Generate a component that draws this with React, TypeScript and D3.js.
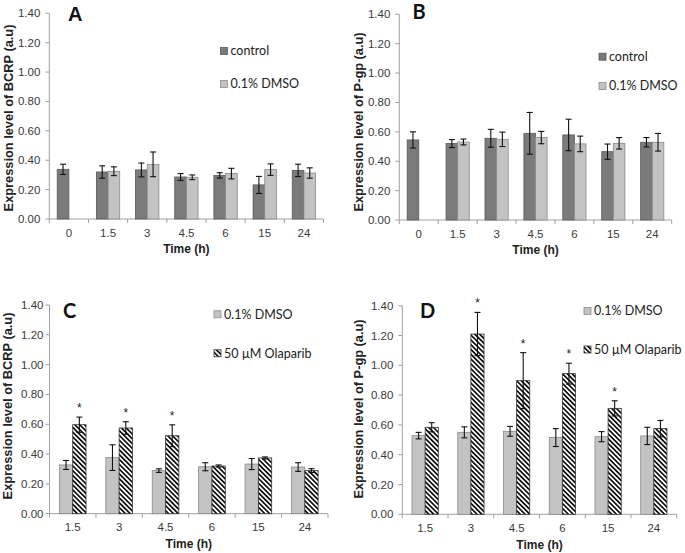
import React from 'react';
import * as d3 from 'd3';

const yTicks = [0, 0.2, 0.4, 0.6, 0.8, 1.0, 1.2, 1.4];
const timesAB = ['0', '1.5', '3', '4.5', '6', '15', '24'];
const timesCD = ['1.5', '3', '4.5', '6', '15', '24'];

const bcrpControl = [0.338, 0.32, 0.334, 0.286, 0.297, 0.232, 0.331];
const bcrpControlErr = [0.035, 0.042, 0.047, 0.023, 0.018, 0.058, 0.042];
const bcrpDmsoA = [null, 0.325, 0.372, 0.284, 0.309, 0.336, 0.313];
const bcrpDmsoAErr = [null, 0.03, 0.084, 0.016, 0.036, 0.039, 0.035];

const pgpControl = [0.545, 0.52, 0.556, 0.59, 0.579, 0.465, 0.529];
const pgpControlErr = [0.055, 0.027, 0.061, 0.142, 0.107, 0.052, 0.032];
const pgpDmsoB = [null, 0.531, 0.549, 0.561, 0.518, 0.522, 0.529];
const pgpDmsoBErr = [null, 0.02, 0.049, 0.042, 0.053, 0.039, 0.06];

const bcrpDmsoC = [0.327, 0.376, 0.289, 0.315, 0.333, 0.313];
const bcrpDmsoCErr = [0.03, 0.086, 0.012, 0.027, 0.037, 0.029];
const bcrpOla = [0.597, 0.575, 0.523, 0.32, 0.374, 0.289];
const bcrpOlaErr = [0.051, 0.042, 0.073, 0.007, 0.007, 0.013];
const bcrpOlaSig = [true, true, true, false, false, false];

const pgpDmsoD = [0.528, 0.55, 0.557, 0.515, 0.521, 0.526];
const pgpDmsoDErr = [0.022, 0.037, 0.033, 0.06, 0.034, 0.058];
const pgpOla = [0.584, 1.21, 0.897, 0.944, 0.711, 0.575];
const pgpOlaErr = [0.031, 0.145, 0.188, 0.07, 0.051, 0.055];
const pgpOlaSig = [false, true, true, true, true, false];

const STYLE: Record<string, { fill: string; stroke: string }> = {
  control: { fill: '#7b7b7b', stroke: '#585858' },
  dmso: { fill: '#c3c3c3', stroke: '#8a8a8a' },
  ola: { fill: 'url(#hatch)', stroke: '#333' },
};

const AX = '#a0a0a0';
const TXT = '#3a3a3a';
const SANS = '"Liberation Sans", Arial, sans-serif';
const LEG = 'Lato, "Open Sans", sans-serif';

type Series = { key: string; label: string; values: (number | null)[]; errs: (number | null)[]; sig?: boolean[] };

type PanelProps = {
  letter: string;
  letterFont: string;
  letterX: number;
  letterY: number;
  cats: string[];
  series: Series[];
  x0: number;
  x1: number;
  yTop: number;
  yBot: number;
  ratio: number;
  yTitle: string;
  yTitleX: number;
  yTitleY: number;
  xTitleY: number;
  labelGap: number;
  legX: number;
  legY: number[];
};

function Panel(p: PanelProps) {
  const x = d3.scaleBand<string>().domain(p.cats).range([p.x0, p.x1]).padding(0);
  const y = d3.scaleLinear().domain([0, 1.4]).range([p.yBot, p.yTop]);
  const bw = x.bandwidth() * p.ratio;
  const boundaries = p.cats.map((c) => x(c) as number).concat([p.x1]);
  return (
    <g>
      <line x1={p.x0} x2={p.x0} y1={y(1.4)} y2={y(0)} stroke={AX} strokeWidth={1} />
      <line x1={p.x0} x2={p.x1} y1={y(0)} y2={y(0)} stroke={AX} strokeWidth={1} />
      {yTicks.map((t) => (
        <g key={t}>
          <line x1={p.x0 - 4} x2={p.x0} y1={y(t)} y2={y(t)} stroke={AX} />
          <text x={p.x0 - p.labelGap} y={y(t)} dy="0.35em" textAnchor="end" fontFamily={SANS} fontSize={11.5} fill={TXT}>
            {t.toFixed(2)}
          </text>
        </g>
      ))}
      {boundaries.map((b, i) => (
        <line key={i} x1={b} x2={b} y1={y(0)} y2={y(0) + 4} stroke={AX} />
      ))}
      {p.cats.map((c) => (
        <text key={c} x={(x(c) as number) + x.bandwidth() / 2} y={y(0) + 13.5} dy="0.35em" textAnchor="middle" fontFamily={SANS} fontSize={11.5} fill={TXT}>
          {c}
        </text>
      ))}
      {p.series.map((s, si) =>
        s.values.map((v, i) => {
          if (v == null) return null;
          const cx = (x(p.cats[i]) as number) + x.bandwidth() / 2;
          const bx = si === 0 ? cx - bw : cx;
          const st = STYLE[s.key];
          const e = s.errs[i] as number;
          const mx = bx + bw / 2;
          const top = y(v + e);
          return (
            <g key={s.key + i}>
              <rect x={bx} y={y(v)} width={bw} height={y(0) - y(v)} fill={st.fill} stroke={st.stroke} strokeWidth={0.8} />
              <line x1={mx} x2={mx} y1={top} y2={y(v - e)} stroke="#111" strokeWidth={1.1} />
              <line x1={mx - 3} x2={mx + 3} y1={top} y2={top} stroke="#111" strokeWidth={1.1} />
              <line x1={mx - 3} x2={mx + 3} y1={y(v - e)} y2={y(v - e)} stroke="#111" strokeWidth={1.1} />
              {s.sig && s.sig[i] ? (
                <text x={mx} y={top - 5} textAnchor="middle" fontFamily={SANS} fontSize={12} fill="#222">*</text>
              ) : null}
            </g>
          );
        })
      )}
      <text x={(p.x0 + p.x1) / 2} y={p.xTitleY} dy="0.35em" textAnchor="middle" fontFamily={SANS} fontWeight="bold" fontSize={12} fill="#222">
        Time (h)
      </text>
      <text
        transform={`translate(${p.yTitleX},${p.yTitleY}) rotate(-90)`}
        dy="0.35em"
        textAnchor="middle"
        fontFamily={SANS}
        fontWeight="bold"
        fontSize={12.8}
        fill="#222"
      >
        {p.yTitle}
      </text>
      <text x={p.letterX} y={p.letterY} fontFamily={p.letterFont} fontWeight="bold" fontSize={20} fill="#111">
        {p.letter}
      </text>
      {p.series.map((s, si) => (
        <g key={'leg' + s.key}>
          <rect x={p.legX} y={p.legY[si] - 3.5} width={7} height={7} fill={STYLE[s.key].fill} stroke={STYLE[s.key].stroke} strokeWidth={0.8} />
          <text x={p.legX + 10} y={p.legY[si]} dy="0.35em" fontFamily={LEG} fontSize={12.5} fill="#222">
            {s.label}
          </text>
        </g>
      ))}
    </g>
  );
}

export default function App() {
  return (
    <svg width={685} height={553} style={{ position: 'absolute', left: 0, top: 0, background: '#fff' }}>
      <defs>
        <pattern id="hatch" patternUnits="userSpaceOnUse" width={3.4} height={3.4} patternTransform="rotate(-45)">
          <rect width={3.4} height={3.4} fill="#fff" />
          <rect width={1.7} height={3.4} fill="#111" />
        </pattern>
      </defs>
      <rect width={685} height={553} fill="#fff" />
      <Panel
        letter="A"
        letterFont={SANS}
        letterX={68}
        letterY={20.7}
        cats={timesAB}
        series={[
          { key: 'control', label: 'control', values: bcrpControl, errs: bcrpControlErr },
          { key: 'dmso', label: '0.1% DMSO', values: bcrpDmsoA, errs: bcrpDmsoAErr },
        ]}
        x0={49.3}
        x1={323.5}
        yTop={13.3}
        yBot={219}
        ratio={0.298}
        yTitle="Expression level of BCRP (a.u)"
        yTitleX={8.5}
        yTitleY={118}
        xTitleY={249}
        labelGap={9}
        legX={220.5}
        legY={[51, 84]}
      />
      <Panel
        letter="B"
        letterFont={LEG}
        letterX={412.5}
        letterY={18.5}
        cats={timesAB}
        series={[
          { key: 'control', label: 'control', values: pgpControl, errs: pgpControlErr },
          { key: 'dmso', label: '0.1% DMSO', values: pgpDmsoB, errs: pgpDmsoBErr },
        ]}
        x0={399.3}
        x1={671.7}
        yTop={14.3}
        yBot={220}
        ratio={0.298}
        yTitle="Expression level of P-gp (a.u)"
        yTitleX={359}
        yTitleY={122}
        xTitleY={250}
        labelGap={9}
        legX={599}
        legY={[56.7, 86]}
      />
      <Panel
        letter="C"
        letterFont={LEG}
        letterX={63}
        letterY={318.3}
        cats={timesCD}
        series={[
          { key: 'dmso', label: '0.1% DMSO', values: bcrpDmsoC, errs: bcrpDmsoCErr },
          { key: 'ola', label: '50 µM Olaparib', values: bcrpOla, errs: bcrpOlaErr, sig: bcrpOlaSig },
        ]}
        x0={49.5}
        x1={328}
        yTop={305}
        yBot={513.7}
        ratio={0.287}
        yTitle="Expression level of BCRP (a.u)"
        yTitleX={7.5}
        yTitleY={406}
        xTitleY={543.3}
        labelGap={6}
        legX={214}
        legY={[314.3, 353.3]}
      />
      <Panel
        letter="D"
        letterFont={LEG}
        letterX={420}
        letterY={318.3}
        cats={timesCD}
        series={[
          { key: 'dmso', label: '0.1% DMSO', values: pgpDmsoD, errs: pgpDmsoDErr },
          { key: 'ola', label: '50 µM Olaparib', values: pgpOla, errs: pgpOlaErr, sig: pgpOlaSig },
        ]}
        x0={402.3}
        x1={676.7}
        yTop={305.7}
        yBot={514.3}
        ratio={0.287}
        yTitle="Expression level of P-gp (a.u)"
        yTitleX={359}
        yTitleY={409}
        xTitleY={545}
        labelGap={9}
        legX={584}
        legY={[311, 349.5]}
      />
    </svg>
  );
}
